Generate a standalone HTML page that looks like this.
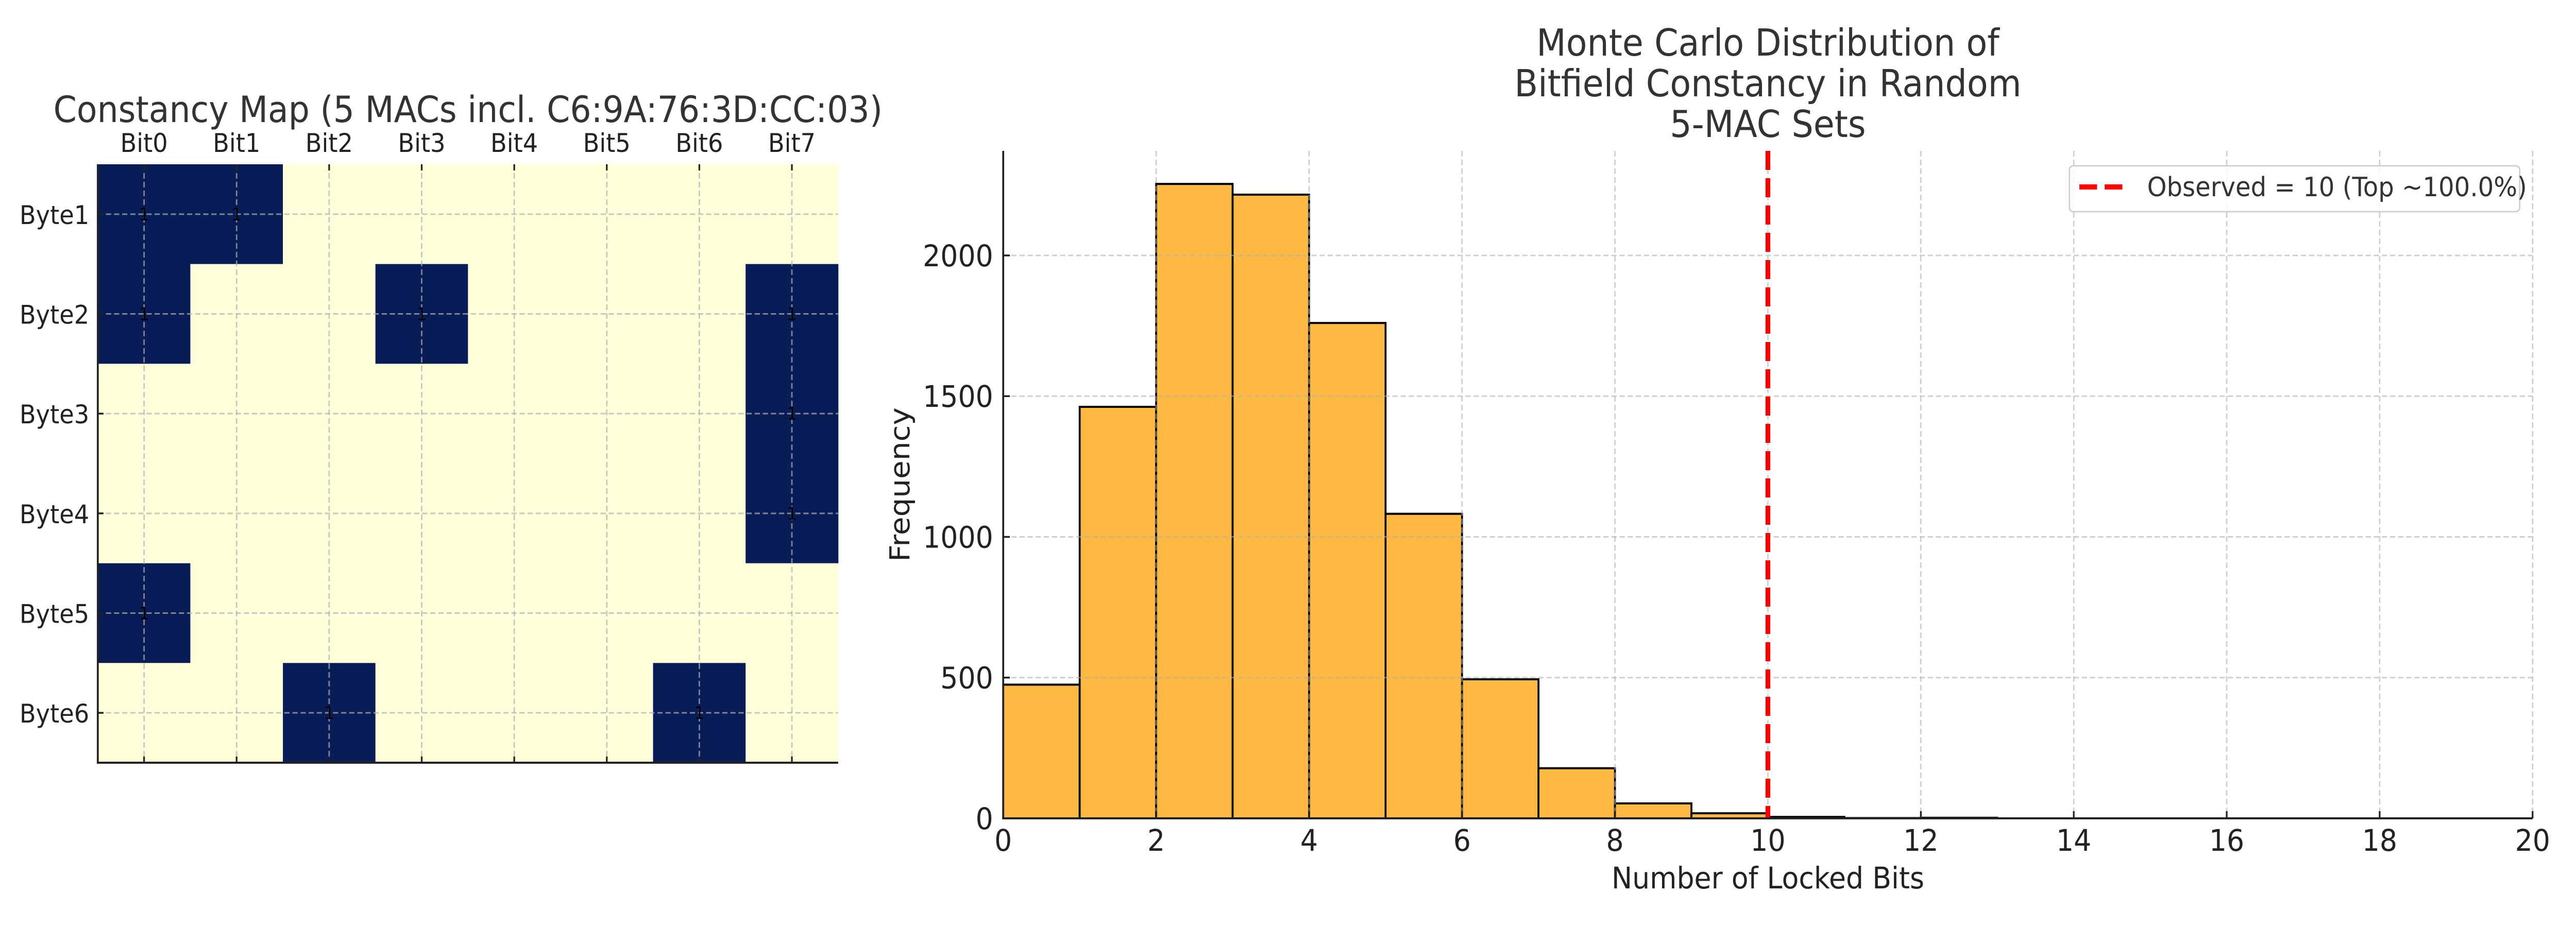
<!DOCTYPE html>
<html><head><meta charset="utf-8"><style>
html,body{margin:0;padding:0;background:#fff;width:100%;height:100%;overflow:hidden;}
svg{display:block;width:100vw;height:100vh;font-family:"DejaVu Sans","Liberation Sans",sans-serif;}
</style></head><body>
<svg id="fig" viewBox="0 0 5400 1800" preserveAspectRatio="none" xmlns="http://www.w3.org/2000/svg">
<rect width="5400" height="1800" fill="#fff"/>
<g id="heat"></g>
<g id="hist"></g>
</svg>
<script>
const bitLabels = ["Bit0","Bit1","Bit2","Bit3","Bit4","Bit5","Bit6","Bit7"];
const byteLabels = ["Byte1","Byte2","Byte3","Byte4","Byte5","Byte6"];
const constancy = [
  [1,1,0,0,0,0,0,0],
  [1,0,0,1,0,0,0,1],
  [0,0,0,0,0,0,0,1],
  [0,0,0,0,0,0,0,1],
  [1,0,0,0,0,0,0,0],
  [0,0,1,0,0,0,1,0]
];
const binEdgesStart = [0,1,2,3,4,5,6,7,8,9,10,11,12,13,14,15,16,17,18,19];
const binCounts = [475,1462,2254,2216,1760,1082,494,178,53,18,5,1,2,0,0,0,0,0,0,0];
const xTicks = [0,2,4,6,8,10,12,14,16,18,20];
const yTicks = [0,500,1000,1500,2000];
const observed = 10;

const NS="http://www.w3.org/2000/svg";
function mk(parent,tag,attrs,text){const e=document.createElementNS(NS,tag);for(const k in attrs)e.setAttribute(k,attrs[k]);if(text!==undefined)e.textContent=text;parent.appendChild(e);return e;}

// ---------- Heatmap ----------
const H=document.getElementById('heat');
const hx0=205,hx1=1757,hy0=319,hy1=1481;
const cw=(hx1-hx0)/bitLabels.length, ch=(hy1-hy0)/byteLabels.length;
const hx=i=>hx0+cw*i, hy=j=>hy0+ch*j;
constancy.forEach((row,j)=>row.forEach((v,i)=>{
  const r=mk(H,'rect',{x:hx(i),y:hy(j),width:cw+0.5,height:ch+0.5,fill:v?'#081d58':'#ffffd9'});
  
  
}));
bitLabels.forEach((b,i)=>{
  const cx=hx(i+0.5);
  mk(H,'line',{x1:cx,y1:hy0,x2:cx,y2:hy1,stroke:'#b0b0b0','stroke-width':3,'stroke-dasharray':'11 6','stroke-opacity':0.7});
  mk(H,'line',{x1:cx,y1:hy1,x2:cx,y2:hy1-12,stroke:'#222','stroke-width':3.5});
  mk(H,'line',{x1:cx,y1:hy0,x2:cx,y2:hy0+12,stroke:'#222','stroke-width':3.5});
  const t=mk(H,'text',{x:cx,y:295,'font-size':50,'text-anchor':'middle',fill:'#222'},b);
  
  
});
byteLabels.forEach((b,j)=>{
  const cy=hy(j+0.5);
  mk(H,'line',{x1:hx0,y1:cy,x2:hx1,y2:cy,stroke:'#b0b0b0','stroke-width':3,'stroke-dasharray':'11 6','stroke-opacity':0.7});
  mk(H,'line',{x1:hx0,y1:cy,x2:hx0+12,y2:cy,stroke:'#222','stroke-width':3.5});
  const t=mk(H,'text',{x:187,y:cy+19,'font-size':50,'text-anchor':'end',fill:'#222'},b);
  
  
});
constancy.forEach((row,j)=>row.forEach((v,i)=>{
  if(v){const t=mk(H,'text',{x:hx(i+0.5),y:hy(j+0.5)+12,'font-size':34,'text-anchor':'middle',fill:'#000'},String(v));
  
  }
}));
mk(H,'line',{x1:hx0,y1:hy0,x2:hx0,y2:hy1+2,stroke:'#222','stroke-width':4});
mk(H,'line',{x1:hx0-2,y1:hy1,x2:hx1,y2:hy1,stroke:'#222','stroke-width':4});
const ht=mk(H,'text',{x:981,y:237,'font-size':70,'text-anchor':'middle',fill:'#333'},'Constancy Map (5 MACs incl. C6:9A:76:3D:CC:03)');



// ---------- Histogram ----------
const G=document.getElementById('hist');
const ax0=2103,ax1=5309,ay0=293,ay1=1589;
const xs=v=>ax0+(ax1-ax0)*v/20;
const ys=v=>ay1-v*(1093/2000);
binCounts.forEach((c,i)=>{
  if(c<=0)return;
  const x=xs(binEdgesStart[i]),w=xs(binEdgesStart[i]+1)-x;
  const r=mk(G,'rect',{x:x,y:ys(c),width:w,height:ay1-ys(c),fill:'#fdb942',stroke:'#000','stroke-width':4});
  
  
});
xTicks.forEach(v=>{
  const x=xs(v);
  mk(G,'line',{x1:x,y1:ay0,x2:x,y2:ay1,stroke:'#b0b0b0','stroke-width':3,'stroke-dasharray':'11 6','stroke-opacity':0.6});
  mk(G,'line',{x1:x,y1:ay1,x2:x,y2:ay1-14,stroke:'#222','stroke-width':3.5});
  const t=mk(G,'text',{x:x,y:1652,'font-size':58,'text-anchor':'middle',fill:'#222'},String(v));
  
  
});
yTicks.forEach(v=>{
  const y=ys(v);
  mk(G,'line',{x1:ax0,y1:y,x2:ax1,y2:y,stroke:'#b0b0b0','stroke-width':3,'stroke-dasharray':'11 6','stroke-opacity':0.6});
  mk(G,'line',{x1:ax0,y1:y,x2:ax0+14,y2:y,stroke:'#222','stroke-width':3.5});
  const t=mk(G,'text',{x:2082,y:y+21,'font-size':58,'text-anchor':'end',fill:'#222'},String(v));
  
  
});
const ol=mk(G,'line',{x1:xs(observed),y1:ay0,x2:xs(observed),y2:ay1,stroke:'#ff0000','stroke-width':10,'stroke-dasharray':'37 16'});


mk(G,'line',{x1:ax0,y1:ay0,x2:ax0,y2:ay1+2,stroke:'#222','stroke-width':4});
mk(G,'line',{x1:ax0-2,y1:ay1,x2:ax1,y2:ay1,stroke:'#222','stroke-width':4});
// legend
const lg=mk(G,'g',{});


mk(lg,'rect',{x:4338,y:322,width:944,height:89,rx:8,fill:'#fff','fill-opacity':0.85,stroke:'#d0d0d0','stroke-width':3});
mk(lg,'line',{x1:4359,y1:363,x2:4449,y2:363,stroke:'#ff0000','stroke-width':10,'stroke-dasharray':'37 16'});
mk(lg,'text',{x:4501,y:381,'font-size':52,fill:'#333'},'Observed = 10 (Top ~100.0%)');
// titles
const tl=['Monte Carlo Distribution of','Bitfield Constancy in Random','5-MAC Sets'];
const tg=mk(G,'g',{});


tl.forEach((s,k)=>mk(tg,'text',{x:3706,y:108+79*k,'font-size':72,'text-anchor':'middle',fill:'#333'},s));
const xl=mk(G,'text',{x:3706,y:1725,'font-size':58,'text-anchor':'middle',fill:'#222'},'Number of Locked Bits');


const yl=mk(G,'text',{x:0,y:0,'font-size':58,'text-anchor':'middle',fill:'#222',transform:'translate(1906,941) rotate(-90)'},'Frequency');


</script>
</body></html>
